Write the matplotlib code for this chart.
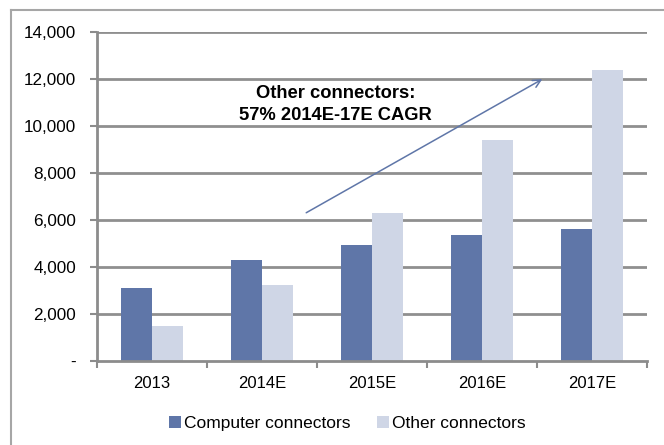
import matplotlib.pyplot as plt
import numpy as np
from matplotlib.ticker import FuncFormatter
from matplotlib.lines import Line2D

plt.rcParams["font.family"] = ["Liberation Sans", "DejaVu Sans"]

years = ["2013", "2014E", "2015E", "2016E", "2017E"]
computer = [3100, 4300, 4950, 5350, 5600]
other = [1500, 3250, 6300, 9400, 12400]
yticks = list(range(0, 14001, 2000))

fig = plt.figure(figsize=(6.64, 4.45), dpi=100)
ax = fig.add_axes([97 / 664, 1 - 361 / 445, 550 / 664, 329 / 445])

# outer frame: top and left edges
fig.add_artist(Line2D([11 / 664, 1], [1 - 10 / 445, 1 - 10 / 445],
                      transform=fig.transFigure, color="#a6a6a6", lw=1.5))
fig.add_artist(Line2D([11 / 664, 11 / 664], [0, 1 - 10 / 445],
                      transform=fig.transFigure, color="#a6a6a6", lw=1.5))

x = np.arange(len(years))
w = 0.28

ax.set_xlim(-0.5, len(years) - 0.5)
ax.set_ylim(0, 14000)

# horizontal gridlines behind the bars
ax.hlines(yticks[1:], -0.5, len(years) - 0.5, colors="#8f8f8f", linewidth=2, zorder=1)

ax.bar(x - w / 2, computer, w, color="#5f76a8", label="Computer connectors", zorder=3)
ax.bar(x + w / 2, other, w, color="#cfd6e6", label="Other connectors", zorder=3)

ax.set_xlim(-0.5, len(years) - 0.5)
ax.set_ylim(0, 14000)
ax.set_yticks(yticks)
ax.yaxis.set_major_formatter(FuncFormatter(lambda v, p: "-" if v == 0 else f"{int(v):,}"))

ax.set_xticks(x)
ax.set_xticklabels(years)
ax.set_xticks(np.arange(-0.5, len(years), 1), minor=True)
ax.tick_params(axis="x", which="major", length=0, pad=11, labelsize=12)
ax.tick_params(axis="x", which="minor", length=5, width=1.5, color="#8c8c8c")
ax.tick_params(axis="y", length=5, width=1.5, color="#8c8c8c", pad=10, labelsize=12.3)

for s in ["top", "right"]:
    ax.spines[s].set_visible(False)
for s in ["left", "bottom"]:
    ax.spines[s].set_color("#8c8c8c")
    ax.spines[s].set_linewidth(2)
    ax.spines[s].set_zorder(4)

# growth arrow and note
ax.annotate("", xy=(3.57, 12050), xytext=(1.38, 6250),
            arrowprops=dict(arrowstyle="->", color="#5f76a8", lw=1.1,
                            mutation_scale=14), zorder=4)
ax.text(1.67, 10900, "Other connectors:\n57% 2014E-17E CAGR", ha="center", va="center",
        fontsize=13.2, fontweight="bold", linespacing=1.4, zorder=5)

ax.legend(loc="upper center", bbox_to_anchor=(0.455, -0.12), ncol=2, frameon=False,
          fontsize=12.5, handlelength=0.7, handleheight=0.7, handletextpad=0.2,
          columnspacing=1.5)

fig.savefig("out.png", dpi=100)
